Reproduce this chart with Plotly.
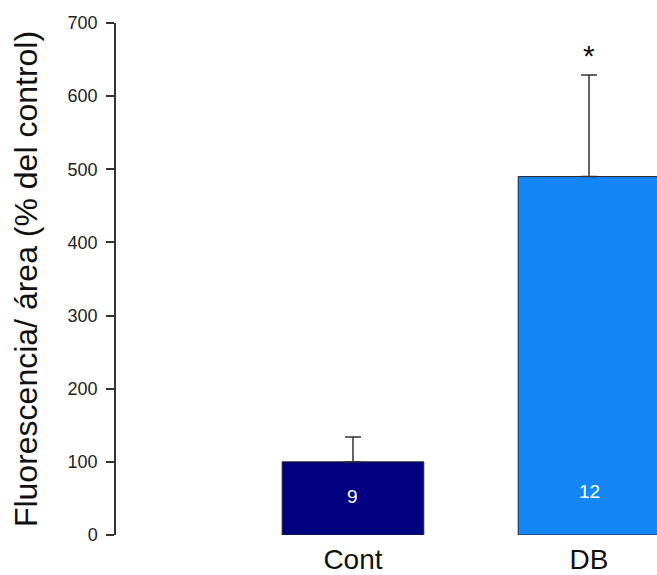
import plotly.graph_objects as go

categories = ["Cont", "DB"]
values = [100, 490]
err_plus = [34, 139]
n_labels = ["9", "12"]
bar_colors = ["#000080", "#1486f5"]
y_ticks = [0, 100, 200, 300, 400, 500, 600, 700]

FONT = "Arial, Liberation Sans, sans-serif"

fig = go.Figure()
fig.add_trace(go.Bar(
    x=categories, y=values, width=0.6,
    marker=dict(color=bar_colors, line=dict(color="#222222", width=1)),
    error_y=dict(type="data", symmetric=False, array=err_plus,
                 arrayminus=[0, 0], color="#333333", thickness=1.5, width=8),
    showlegend=False,
))

for c, v, t in zip(categories, [52, 59], n_labels):
    fig.add_annotation(x=c, y=v, text=t, showarrow=False,
                       font=dict(family=FONT, size=19, color="white"))

fig.add_annotation(x=categories[1], y=values[1] + err_plus[1] + 27, text="*",
                   showarrow=False, font=dict(family=FONT, size=30, color="#111111"))

fig.update_layout(
    width=657, height=575,
    margin=dict(l=116, r=0, t=23, b=40),
    plot_bgcolor="white", paper_bgcolor="white",
    xaxis=dict(range=[-1.004, 1.288], showline=False, showgrid=False,
               zeroline=False, ticks="", ticklabelstandoff=5, automargin=False,
               tickfont=dict(family=FONT, size=28, color="#111111")),
    yaxis=dict(range=[0, 700], tickvals=y_ticks, showgrid=False, zeroline=False,
               showline=True, linecolor="#333333", linewidth=1.5,
               ticks="outside", ticklen=8, tickcolor="#333333", tickwidth=1.5,
               automargin=False, ticklabelstandoff=5,
               tickfont=dict(family=FONT, size=18, color="#222222"),
               title=dict(text="Fluorescencia/ área (% del control)",
                          font=dict(family=FONT, size=32, color="#111111"),
                          standoff=20)),
)

fig.write_html(
    "out.html",
    config={"displayModeBar": False},
    post_script="document.body.style.margin='0';document.body.style.overflow='hidden';",
)
